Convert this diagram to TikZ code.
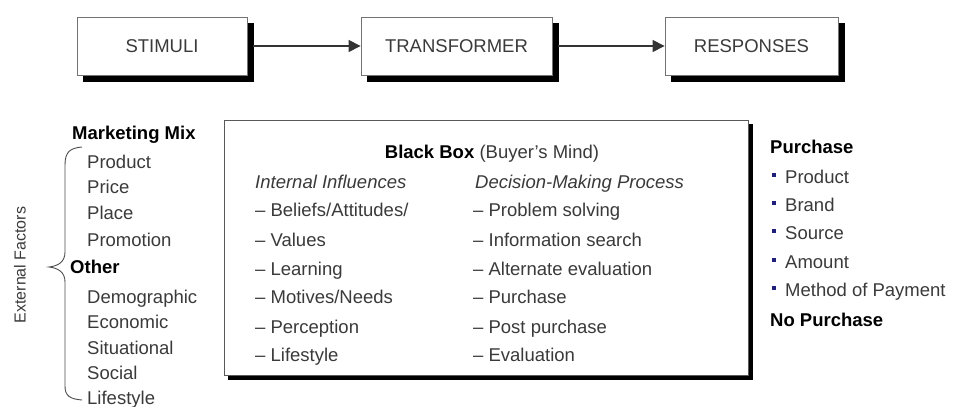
\documentclass[tikz,border=0pt]{standalone}
\usepackage{fontspec}
\setmainfont{Liberation Sans}[Ligatures=ResetAll]
\usetikzlibrary{arrows.meta}
\definecolor{txt}{HTML}{3A3A3A}
\definecolor{bul}{HTML}{20207A}
\begin{document}
\begin{tikzpicture}[x=1pt,y=-1pt,
  font=\fontsize{18.5}{22}\selectfont,
  shd/.style={preaction={fill=black, draw=black, transform canvas={shift={(#1pt,-#1pt)}}}},
  topbox/.style={draw=black!55, line width=0.8pt, fill=white, minimum height=58pt, text=txt, inner sep=0pt, shd=6},
  arr/.style={draw=black!80, line width=1.1pt, -{Triangle[length=12pt,width=12pt]}},
  item/.style={anchor=base west, text=txt, inner sep=0pt},
  head/.style={anchor=base west, font=\fontsize{18.5}{22}\selectfont\bfseries, text=black, inner sep=0pt},
  ital/.style={anchor=base west, font=\fontsize{18.5}{22}\selectfont\itshape, text=txt, inner sep=0pt},
  bulletmark/.style={fill=bul, minimum size=3.5pt, inner sep=0pt, draw=none},
  brace/.style={draw=black!70, line width=0.9pt}
]
\useasboundingbox (0,0) rectangle (959,407);

% top row
\node[topbox, minimum width=170pt] (stim) at (162,46) {STIMULI};
\node[topbox, minimum width=191pt] (trans) at (456.5,46) {TRANSFORMER};
\node[topbox, minimum width=173pt] (resp) at (751.5,46) {RESPONSES};
\draw[arr] ([xshift=6pt]stim.east) -- (trans.west);
\draw[arr] ([xshift=6pt]trans.east) -- (resp.west);

% black box
\node[draw=black!65, line width=1pt, fill=white, minimum width=524pt, minimum height=255pt, inner sep=0pt, shd=4] (bb) at (486,247.5) {};
\node[anchor=base, inner sep=0pt, text=txt] (bbt) at (492,158) {\textcolor{black}{\bfseries Black Box} (Buyer's Mind)};
\node[ital] (ii) at (255,188) {Internal Influences};
\node[ital] (dmp) at (475,188) {Decision-Making Process};
\node[item] (i1) at (255,216) {– Beliefs/Attitudes/};
\node[item] (i2) at (255,246) {– Values};
\node[item] (i3) at (255,275) {– Learning};
\node[item] (i4) at (255,303) {– Motives/Needs};
\node[item] (i5) at (255,333) {– Perception};
\node[item] (i6) at (255,361) {– Lifestyle};
\node[item] (d1) at (473,216) {– Problem solving};
\node[item] (d2) at (473,246) {– Information search};
\node[item] (d3) at (473,275) {– Alternate evaluation};
\node[item] (d4) at (473,303) {– Purchase};
\node[item] (d5) at (473,333) {– Post purchase};
\node[item] (d6) at (473,361) {– Evaluation};

% left: external factors
\node[head] (mm) at (72,139) {Marketing Mix};
\node[item] (l1) at (87,168) {Product};
\node[item] (l2) at (87,193) {Price};
\node[item] (l3) at (87,219) {Place};
\node[item] (l4) at (87,246) {Promotion};
\node[head] (oth) at (70,273) {Other};
\node[item] (l5) at (87,303) {Demographic};
\node[item] (l6) at (87,328) {Economic};
\node[item] (l7) at (87,354) {Situational};
\node[item] (l8) at (87,379) {Social};
\node[item] (l9) at (87,404) {Lifestyle};
\draw[brace] (82,147) .. controls (70,148) and (65,152) .. (65,165) -- (65,252)
  .. controls (65,262) and (58,266) .. (49,267) .. controls (58,268) and (65,272) .. (65,282)
  -- (65,386) .. controls (65,396) and (70,399) .. (82,400);
\node[rotate=90, text=txt, font=\fontsize{16}{19}\selectfont, inner sep=0pt] (ext) at (20,265) {External Factors};

% right: responses
\node[head] (pur) at (770,153) {Purchase};
\node[item] (r1) at (785,183) {Product};
\node[item] (r2) at (785,211) {Brand};
\node[item] (r3) at (785,239) {Source};
\node[item] (r4) at (785,268) {Amount};
\node[item] (r5) at (785,296) {Method of Payment};
\node[head] (np) at (770,326) {No Purchase};
\node[bulletmark] (b1) at (774,175) {};
\node[bulletmark] (b2) at (774,203) {};
\node[bulletmark] (b3) at (774,231) {};
\node[bulletmark] (b4) at (774,260) {};
\node[bulletmark] (b5) at (774,288) {};
\end{tikzpicture}
\end{document}
